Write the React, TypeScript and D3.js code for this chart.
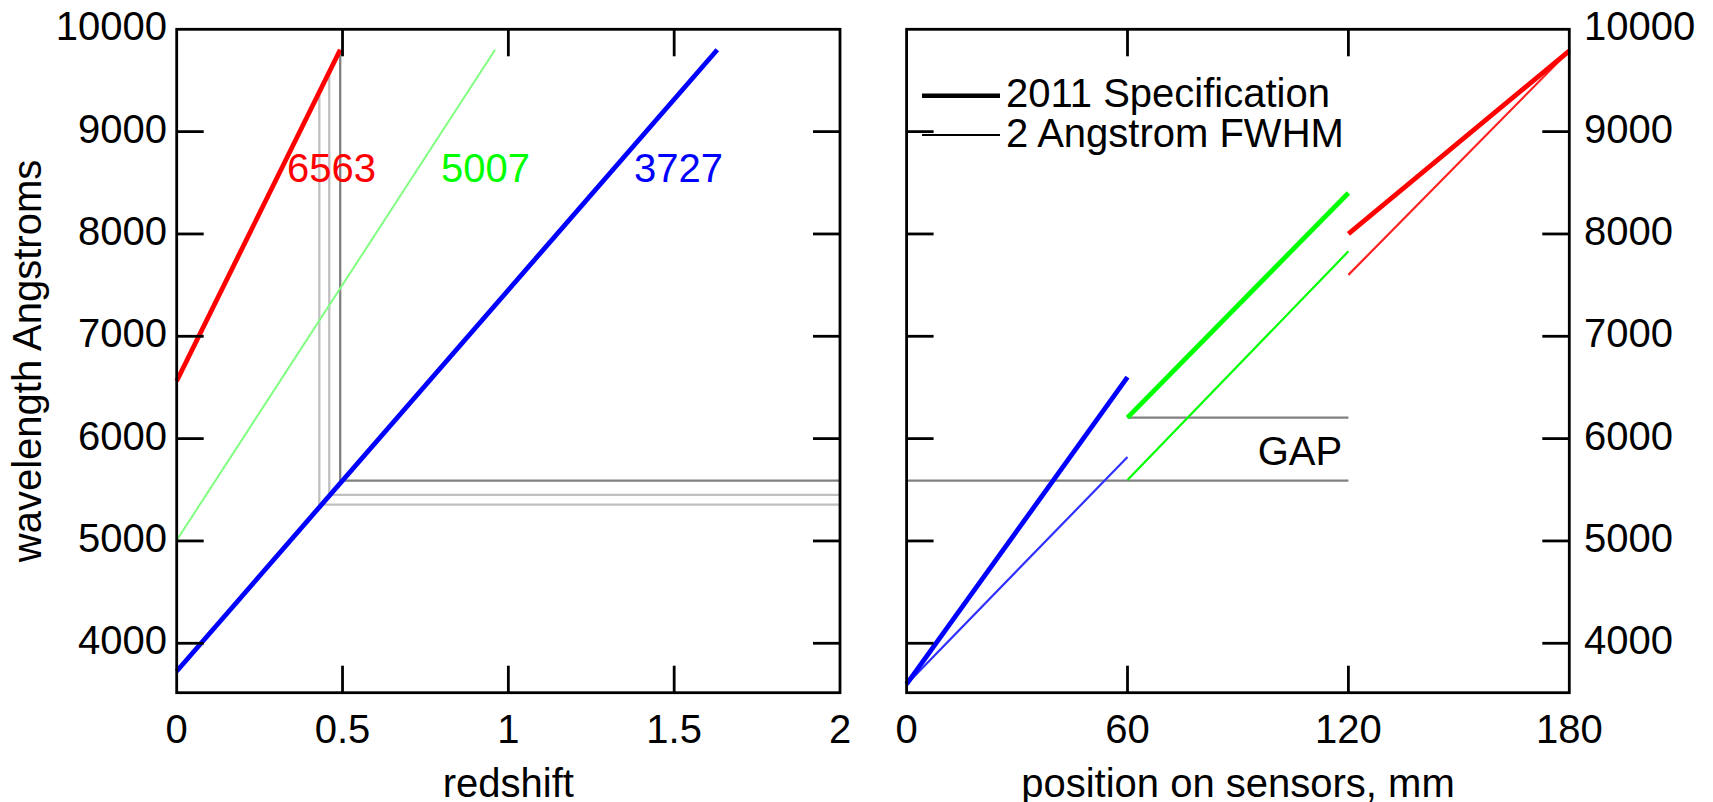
import React from 'react';
import * as d3 from 'd3';

// wavelength ticks shared by both panels
const wavelengthTicks = [4000, 5000, 6000, 7000, 8000, 9000, 10000];
const redshiftTicks = [0, 0.5, 1, 1.5, 2];
const redshiftTickLabels = ['0', '0.5', '1', '1.5', '2'];
const positionTicks = [0, 60, 120, 180];

// left panel: observed wavelength vs redshift for three emission lines
const restNames = ['6563', '5007', '3727'];
const halphaLine = [[0, 6563], [0.493, 9800]];
const oiiiLine = [[0, 5007], [0.96, 9800]];
const oiiLine = [[0, 3727], [1.63, 9800]];

// gray guide lines: redshift, top wavelength (on 6563), bottom wavelength (on 3727)
const cutZ = [0.43, 0.46, 0.493];
const cutTop = [9385, 9582, 9800];
const cutBottom = [5354, 5451, 5590];
const cutColor = ['#c0c0c0', '#c0c0c0', '#808080'];

// right panel: wavelength vs position on sensors (mm)
const blueSpec = [[0, 3600], [60, 6600]];
const blueFwhm = [[0, 3600], [60, 5820]];
const greenSpec = [[60, 6205], [120, 8400]];
const greenFwhm = [[60, 5595], [120, 7830]];
const redSpec = [[120, 8000], [180, 9790]];
const redFwhm = [[120, 7600], [180, 9790]];
const gapLow = [[0, 5590], [120, 5590]];
const gapHigh = [[60, 6205], [120, 6205]];

const legendLabels = ['2011 Specification', '2 Angstrom FWHM'];

const FONT = '"Liberation Sans", Arial, sans-serif';

export default function App() {
  const y = d3.scaleLinear().domain([3517, 10000]).range([692.7, 29.3]);
  const xL = d3.scaleLinear().domain([0, 2]).range([176.7, 840]);
  const xR = d3.scaleLinear().domain([0, 180]).range([906.6, 1569.3]);

  const lineL = d3.line<number[]>().x((d) => xL(d[0])).y((d) => y(d[1]));
  const lineR = d3.line<number[]>().x((d) => xR(d[0])).y((d) => y(d[1]));

  const top = y(10000);
  const bottom = y(3517);
  const tickLen = 27;

  const frame = (x: d3.ScaleLinear<number, number>, xt: number[]) => {
    const [x0, x1] = x.range();
    return (
      <g stroke="#000" strokeWidth={2.8}>
        <rect x={x0} y={top} width={x1 - x0} height={bottom - top} fill="none" />
        {wavelengthTicks.slice(0, -1).map((t) => (
          <g key={'y' + t}>
            <line x1={x0} x2={x0 + tickLen} y1={y(t)} y2={y(t)} />
            <line x1={x1} x2={x1 - tickLen} y1={y(t)} y2={y(t)} />
          </g>
        ))}
        {xt.slice(1, -1).map((t) => (
          <g key={'x' + t}>
            <line x1={x(t)} x2={x(t)} y1={top} y2={top + tickLen} />
            <line x1={x(t)} x2={x(t)} y1={bottom} y2={bottom - tickLen} />
          </g>
        ))}
      </g>
    );
  };

  const textStyle = { fontFamily: FONT, fontSize: 40 } as React.CSSProperties;

  return (
    <svg
      width={1713}
      height={802}
      style={{ position: 'absolute', left: 0, top: 0, background: '#fff' }}
    >
      <rect width={1713} height={802} fill="#fff" />

      {/* left panel guides */}
      {cutZ.map((z, i) => (
        <path
          key={'cut' + i}
          d={lineL([[z, cutTop[i]], [z, cutBottom[i]], [2, cutBottom[i]]]) || ''}
          fill="none"
          stroke={cutColor[i]}
          strokeWidth={2.3}
        />
      ))}

      {/* left panel lines */}
      <path d={lineL(oiiiLine) || ''} fill="none" stroke="#80ff80" strokeWidth={2} />
      <path d={lineL(halphaLine) || ''} fill="none" stroke="#ff0000" strokeWidth={4.8} />
      <path d={lineL(oiiLine) || ''} fill="none" stroke="#0000ff" strokeWidth={4.8} />

      <g style={textStyle}>
        <text x={287} y={181.5} fill="#ff0000">{restNames[0]}</text>
        <text x={441} y={181.5} fill="#00ff00">{restNames[1]}</text>
        <text x={634} y={181.5} fill="#0000ff">{restNames[2]}</text>
      </g>

      {frame(xL, redshiftTicks)}

      {/* right panel gap lines */}
      <path d={lineR(gapLow) || ''} fill="none" stroke="#808080" strokeWidth={2.3} />
      <path d={lineR(gapHigh) || ''} fill="none" stroke="#808080" strokeWidth={2.3} />

      {/* right panel lines */}
      <path d={lineR(blueFwhm) || ''} fill="none" stroke="#3030ff" strokeWidth={2.2} />
      <path d={lineR(greenFwhm) || ''} fill="none" stroke="#00ff00" strokeWidth={2.2} />
      <path d={lineR(redFwhm) || ''} fill="none" stroke="#ff2020" strokeWidth={2.2} />
      <path d={lineR(blueSpec) || ''} fill="none" stroke="#0000ff" strokeWidth={4.8} />
      <path d={lineR(greenSpec) || ''} fill="none" stroke="#00ff00" strokeWidth={4.8} />
      <path d={lineR(redSpec) || ''} fill="none" stroke="#ff0000" strokeWidth={4.8} />

      {frame(xR, positionTicks)}

      {/* legend */}
      <line x1={922} x2={1000} y1={95.7} y2={95.7} stroke="#000" strokeWidth={4.5} />
      <line x1={922} x2={1000} y1={135} y2={135} stroke="#000" strokeWidth={2} />
      <g style={textStyle} fill="#000">
        <text x={1006} y={107.3}>{legendLabels[0]}</text>
        <text x={1006} y={146.7}>{legendLabels[1]}</text>
        <text x={1300} y={465} textAnchor="middle">GAP</text>
      </g>

      {/* tick labels */}
      <g style={textStyle} fill="#000">
        {wavelengthTicks.map((t) => (
          <text key={'ly' + t} x={167} y={y(t) + 11} textAnchor="end">
            {t}
          </text>
        ))}
        {wavelengthTicks.map((t) => (
          <text key={'ry' + t} x={1584} y={y(t) + 11}>
            {t}
          </text>
        ))}
        {redshiftTicks.map((t, i) => (
          <text key={'lx' + t} x={xL(t)} y={743} textAnchor="middle">
            {redshiftTickLabels[i]}
          </text>
        ))}
        {positionTicks.map((t) => (
          <text key={'rx' + t} x={xR(t)} y={743} textAnchor="middle">
            {t}
          </text>
        ))}
        <text x={(xL(0) + xL(2)) / 2} y={796.7} textAnchor="middle">
          redshift
        </text>
        <text x={(xR(0) + xR(180)) / 2} y={796.7} textAnchor="middle">
          position on sensors, mm
        </text>
        <text
          transform={`translate(41.4, ${(top + bottom) / 2}) rotate(-90)`}
          textAnchor="middle"
        >
          wavelength Angstroms
        </text>
      </g>
    </svg>
  );
}
